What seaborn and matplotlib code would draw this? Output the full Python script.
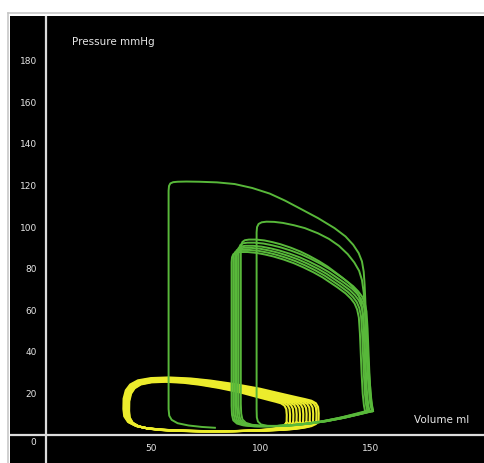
import numpy as np
import pandas as pd
import matplotlib
matplotlib.use("Agg")
import matplotlib.pyplot as plt
from matplotlib.lines import Line2D
import seaborn as sns

# volume (ml) / pressure (mmHg)
# first green beat, with the starting tail at the bottom
lv1_vol = [79, 73, 67, 62, 59.3, 58.2, 57.9, 57.9, 58.1, 58.7, 60, 62, 66, 72, 80, 88, 96,
           104, 111, 118, 126, 133.5, 138.5, 142, 144.5, 146, 146.8, 147.2, 147.5, 147.9,
           148.5, 149.3, 150.3, 151]
lv1_p = [3, 3.4, 4.1, 5.2, 6.8, 8.8, 12, 117, 119.3, 120.5, 121.1, 121.3, 121.4, 121.3,
         121, 120.2, 118.3, 115.6, 112.2, 108.3, 103.8, 99, 95, 91, 87, 83, 78, 72, 65,
         55, 42, 28, 16, 11]

# second green beat
lv2_vol = [151, 145, 138, 130, 122, 115, 108, 103, 100, 98.6, 98.1, 98, 98, 98.2, 98.9,
           100.3, 102.5, 106, 110, 115, 120, 126, 131, 135.5, 139.5, 142.5, 144.7, 146,
           146.8, 147.3, 147.8, 148.6, 149.8, 151]
lv2_p = [11, 9.5, 7.8, 6.2, 5, 4.2, 3.8, 3.9, 4.6, 6, 8, 12, 97, 99.5, 101, 101.8, 102.1,
         102, 101.5, 100.4, 99, 96.5, 93.8, 90.5, 86.5, 82.5, 78.5, 74, 68, 60, 45, 28,
         15, 11]

# shape of the later, steady green beats
lv_base_vol = [151, 145, 138, 130, 122, 114, 106, 99, 94, 91, 89.3, 88.7, 88.5, 88.5,
               88.7, 89.3, 90.5, 92.5, 96, 100, 104, 108, 113, 117.7, 122, 126.8, 131,
               134.5, 138, 141.8, 144.2, 146, 147.2, 148, 148.5, 148.9, 149.3, 149.8,
               150.4, 151]
lv_base_p = [11, 9.5, 7.8, 6.2, 5.0, 4.2, 3.8, 3.8, 4.3, 5.2, 6.8, 9.5, 14, 85.5, 88,
             89.5, 90.3, 90.6, 90.6, 90.2, 89.4, 88.4, 86.8, 85, 83, 80.5, 78, 75.5, 73,
             70, 67.5, 65, 62, 58, 50, 40, 30, 20, 14, 11]
lv_left = [86.6, 87.4, 88.2, 89.0, 89.8, 90.8]
lv_top = [87.5, 88.5, 89.5, 90.5, 92.0, 93.5]
lv_right = [147.5, 148.5, 149.5, 150.5, 151.0, 149.0]

# yellow loops
la_base_vol = [126.2, 126.3, 126, 125, 123, 120, 117, 110, 99.5, 88, 77, 68, 58, 50, 44,
               40.5, 38.5, 37.5, 37.4, 37.8, 39.5, 43, 48, 55, 62, 75, 88, 100, 110, 116,
               120, 123, 125, 126.2]
la_base_p = [6, 10, 13, 14.8, 16, 16.8, 17.5, 19.2, 21.8, 24, 25.7, 26.7, 27.2, 26.9,
             25.8, 23.8, 21, 17, 12, 8.5, 5.8, 3.9, 2.8, 2.1, 1.7, 1.4, 1.4, 1.6, 2.0,
             2.5, 3.1, 3.8, 4.8, 6]
la_left = [37.4, 37.7, 38.0, 38.3, 38.6, 38.9, 39.2, 39.4, 39.6, 39.8, 40.0]
la_right = [126, 125, 123.5, 122, 120.5, 119, 117.5, 116, 114.5, 113, 111.5]
la_top = [27.3, 27.0, 26.8, 26.6, 26.4, 26.2, 26.0, 25.8, 25.6, 25.4, 25.2]

yticks = [20, 40, 60, 80, 100, 120, 140, 160, 180]
xticks = [50, 100, 150]

green = "#58b83a"
yellow = "#ecec2c"
txt = "#e6e6e6"

# tables for seaborn
lv_rows = [pd.DataFrame({"vol": lv1_vol, "p": lv1_p, "beat": 0}),
           pd.DataFrame({"vol": lv2_vol, "p": lv2_p, "beat": 1})]
bv = np.array(lv_base_vol)
bp = np.array(lv_base_p)
for i, (vl, pt, vr) in enumerate(zip(lv_left, lv_top, lv_right)):
    v = vl + (bv - 88.5) * (vr - vl) / (151 - 88.5)
    lv_rows.append(pd.DataFrame({"vol": v, "p": bp * pt / 90.6, "beat": i + 2}))
lv = pd.concat(lv_rows, ignore_index=True)

av = np.array(la_base_vol)
ap = np.array(la_base_p)
la_rows = []
for i, (vl, vr, pt) in enumerate(zip(la_left, la_right, la_top)):
    v = vl + (av - 37.5) * (vr - vl) / (126 - 37.5)
    la_rows.append(pd.DataFrame({"vol": v, "p": ap * pt / 27.3, "beat": i}))
la = pd.concat(la_rows, ignore_index=True)

plt.rcParams["font.family"] = ["DejaVu Sans"]

fig = plt.figure(figsize=(4.84, 4.64), dpi=100)
fig.patch.set_facecolor("white")

W, H = 484, 464
ax = fig.add_axes([10 / W, 0, 474 / W, (H - 17) / H])
ax.set_facecolor("black")

sns.lineplot(data=la, x="vol", y="p", units="beat", estimator=None, sort=False,
             color=yellow, lw=1.5, ax=ax, legend=False)
sns.lineplot(data=lv, x="vol", y="p", units="beat", estimator=None, sort=False,
             color=green, lw=1.4, ax=ax, legend=False)

ax.set_xlim(-14.35, 201.6)
ax.set_ylim(-13.94, 201)
ax.axvline(2, color="#dcdcdc", lw=1.6)
ax.axhline(-0.5, color="#dcdcdc", lw=1.6)

for s in ax.spines.values():
    s.set_visible(False)

ax.set_xticks(xticks)
ax.set_xticklabels([str(t) for t in xticks])
ax.set_yticks(yticks)
ax.set_yticklabels([str(t) for t in yticks])
ax.tick_params(axis="x", length=0, pad=-14.5, labelsize=6.5, labelcolor=txt)
ax.tick_params(axis="y", length=0, pad=-19.4, labelsize=6.5, labelcolor=txt)
ax.set_xlabel("")
ax.set_ylabel("")

ax.text(-3.9, -3.8, "0", color=txt, fontsize=6.5, ha="center", va="center")
ax.text(13.9, 189, "Pressure mmHg", color=txt, fontsize=7.5, ha="left", va="center")
ax.text(169.5, 7.2, "Volume ml", color=txt, fontsize=7.5, ha="left", va="center")

# grey frame round the panel
fig.add_artist(Line2D([7.5 / W, 7.5 / W], [0, 1 - 14 / H], color="#c4c4c4", lw=1.1,
                      transform=fig.transFigure))
fig.add_artist(Line2D([7.5 / W, 1], [1 - 14 / H, 1 - 14 / H], color="#c4c4c4", lw=1.1,
                      transform=fig.transFigure))

fig.savefig("out.png", dpi=100, facecolor="white")
